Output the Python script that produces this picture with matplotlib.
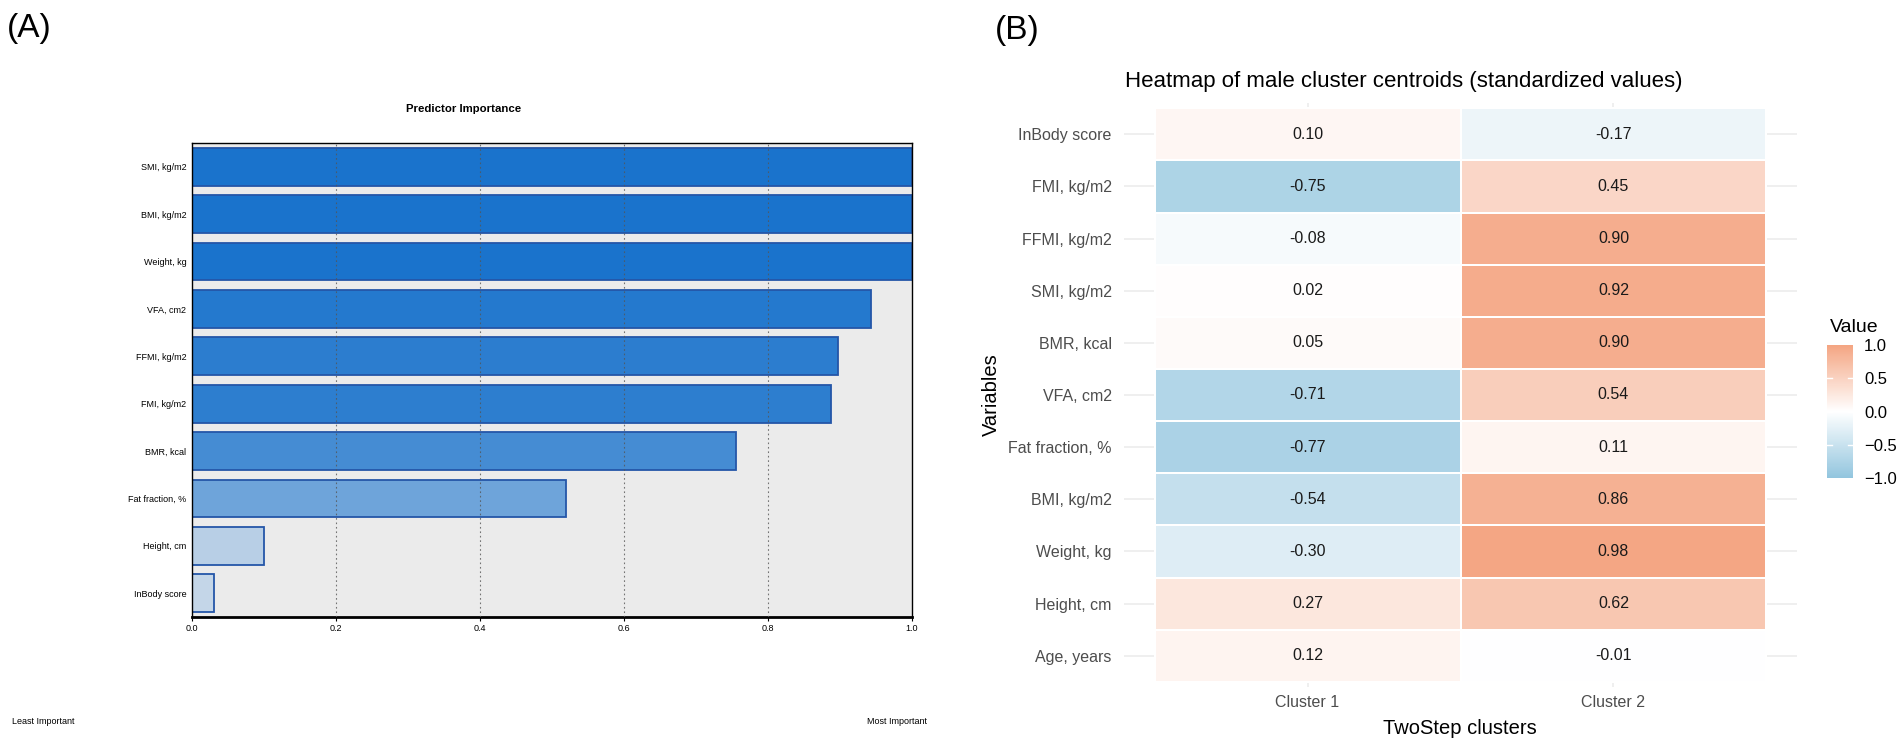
import matplotlib
matplotlib.use("Agg")
import matplotlib.pyplot as plt
import numpy as np
from matplotlib.cm import ScalarMappable
from matplotlib.colors import LinearSegmentedColormap, Normalize

plt.rcParams["font.family"] = ["Liberation Sans", "DejaVu Sans"]

# (A) predictor importance, listed top to bottom
predictors = ["SMI, kg/m2", "BMI, kg/m2", "Weight, kg", "VFA, cm2", "FFMI, kg/m2",
              "FMI, kg/m2", "BMR, kcal", "Fat fraction, %", "Height, cm", "InBody score"]
importance = [1.0, 1.0, 1.0, 0.943, 0.897, 0.887, 0.755, 0.52, 0.10, 0.031]
imp_ticks = [0.0, 0.2, 0.4, 0.6, 0.8, 1.0]
imp_tick_labels = ["0.0", "0.2", "0.4", "0.6", "0.8", "1.0"]

# (B) standardized cluster centroids, listed top to bottom
variables = ["InBody score", "FMI, kg/m2", "FFMI, kg/m2", "SMI, kg/m2", "BMR, kcal",
             "VFA, cm2", "Fat fraction, %", "BMI, kg/m2", "Weight, kg", "Height, cm",
             "Age, years"]
clusters = ["Cluster 1", "Cluster 2"]
cluster1 = [0.10, -0.75, -0.08, 0.02, 0.05, -0.71, -0.77, -0.54, -0.30, 0.27, 0.12]
cluster2 = [-0.17, 0.45, 0.90, 0.92, 0.90, 0.54, 0.11, 0.86, 0.98, 0.62, -0.01]
legend_ticks = [1.0, 0.5, 0.0, -0.5, -1.0]

W, H = 1901, 751
fig = plt.figure(figsize=(W / 100, H / 100), dpi=100)


def box(x0, y0, x1, y1):
    # pixel rectangle (from top-left) -> figure fraction
    return [x0 / W, 1 - y1 / H, (x1 - x0) / W, (y1 - y0) / H]


# ---------------- panel A ----------------
ax = fig.add_axes(box(192, 143, 912, 617))
ax.set_facecolor("#EBEBEB")
ypos = np.arange(len(predictors))[::-1]
blues = LinearSegmentedColormap.from_list("imp", ["#C9D9E9", "#1A73CC"])
ax.barh(ypos, importance, height=0.8, color=blues(np.array(importance)),
        edgecolor="#2456A8", linewidth=1.3, zorder=2)
for t in imp_ticks[1:-1]:
    ax.axvline(t, color="#555555", ls=(0, (1.5, 2.5)), lw=0.8, alpha=0.8, zorder=3)
ax.set_xlim(0, 1)
ax.set_ylim(-0.5, len(predictors) - 0.5)
ax.set_yticks(ypos, predictors, fontsize=6.5)
ax.set_xticks(imp_ticks, imp_tick_labels, fontsize=6.5)
ax.tick_params(axis="y", length=0, pad=4)
ax.tick_params(axis="x", length=3, pad=2)
for side in ["top", "left", "right"]:
    ax.spines[side].set_color("black")
    ax.spines[side].set_linewidth(1.0)
ax.spines["bottom"].set_linewidth(2.0)

fig.text(464 / W, 1 - 109 / H, "Predictor Importance", ha="center", va="center",
         fontsize=8.2, fontweight="bold")
fig.text(12 / W, 1 - 722 / H, "Least Important", ha="left", va="center", fontsize=6.5)
fig.text(927 / W, 1 - 722 / H, "Most Important", ha="right", va="center", fontsize=6.5)
fig.text(7 / W, 1 - 28 / H, "(A)", ha="left", va="center", fontsize=24)
fig.text(995 / W, 1 - 30 / H, "(B)", ha="left", va="center", fontsize=24)

# ---------------- panel B ----------------
div = LinearSegmentedColormap.from_list("div", ["#92C5DE", "#FFFFFF", "#F4A582"])
norm = Normalize(-1, 1)
axh = fig.add_axes(box(1124, 103, 1797, 687))
vals = np.column_stack([cluster1, cluster2])[::-1]
xe = np.arange(len(clusters) + 1) + 0.5
ye = np.arange(len(variables) + 1) + 0.5
axh.pcolormesh(xe, ye, vals, cmap=div, norm=norm, edgecolors="white", linewidth=1.2)
for i in range(vals.shape[0]):
    for j in range(vals.shape[1]):
        axh.text(j + 1, i + 1, f"{vals[i, j]:.2f}", ha="center", va="center",
                 fontsize=11.5, color="#1A1A1A")
axh.set_xlim(0.4, len(clusters) + 0.6)
axh.set_ylim(0.4, len(variables) + 0.6)
axh.set_xticks(np.arange(1, len(clusters) + 1), clusters)
axh.set_yticks(np.arange(1, len(variables) + 1), variables[::-1])
axh.tick_params(length=0, labelsize=11.5, labelcolor="#4D4D4D")
axh.tick_params(axis="y", pad=9)
axh.tick_params(axis="x", pad=6)
axh.grid(color="#EBEBEB", lw=1.1)
axh.set_axisbelow(True)
for s in axh.spines.values():
    s.set_visible(False)

fig.text(1125 / W, 1 - 81 / H, "Heatmap of male cluster centroids (standardized values)",
         ha="left", va="center", fontsize=16)
fig.text(1460 / W, 1 - 729 / H, "TwoStep clusters", ha="center", va="center", fontsize=14.5)
fig.text(991 / W, 1 - 395 / H, "Variables", ha="center", va="center", fontsize=14.5,
         rotation=90)

# legend
cax = fig.add_axes(box(1827, 345, 1853, 478))
cb = fig.colorbar(ScalarMappable(norm=norm, cmap=div), cax=cax, ticks=legend_ticks)
cb.outline.set_visible(False)
cax.tick_params(length=0, labelsize=12, pad=8)
for t in legend_ticks[1:-1]:
    cax.axhline(t, xmin=0, xmax=0.2, color="white", lw=1)
    cax.axhline(t, xmin=0.8, xmax=1, color="white", lw=1)
fig.text(1830 / W, 1 - 327 / H, "Value", ha="left", va="center", fontsize=14)

fig.savefig("out.png", dpi=100)
